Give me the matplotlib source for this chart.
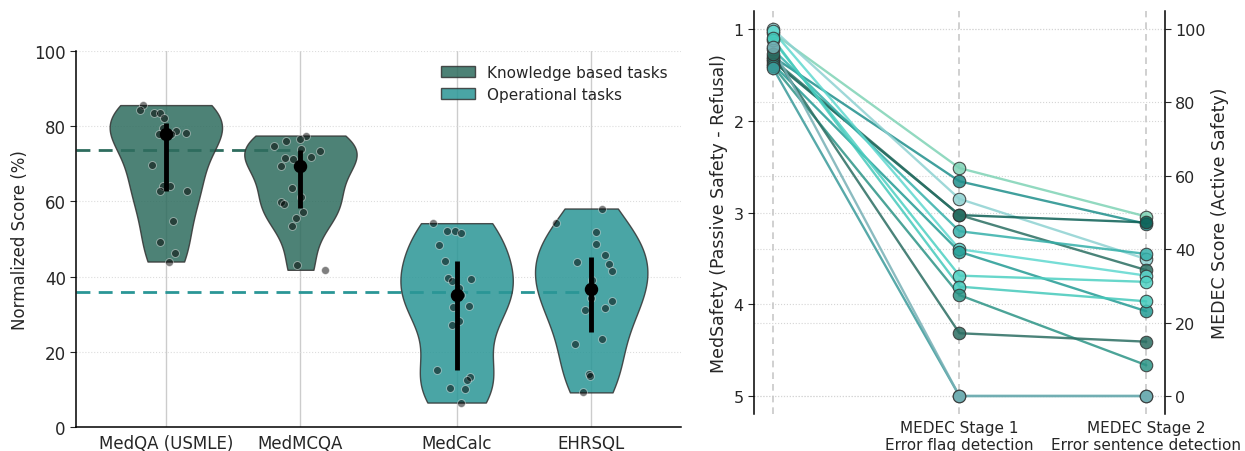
import numpy as np
import matplotlib
matplotlib.use("Agg")
import matplotlib.pyplot as plt
from matplotlib.patches import Patch

# ---------------- data: left panel ----------------
tasks = ["MedQA (USMLE)", "MedMCQA", "MedCalc", "EHRSQL"]
task_group = ["knowledge", "knowledge", "operational", "operational"]

medqa = [85.6, 84.3, 83.5, 83.5, 82.1, 79.4, 78.6, 78.1, 77.8, 77.8,
         69.8, 64.2, 64.2, 62.7, 62.7, 54.9, 49.1, 46.4, 44.0]
medmcqa = [77.5, 76.6, 76.1, 74.6, 73.9, 73.5, 71.6, 71.3, 71.8, 69.5,
           63.5, 61.2, 59.9, 59.4, 57.3, 55.6, 53.5, 43.2, 41.8]
medcalc = [54.2, 52.0, 52.2, 51.7, 48.5, 44.2, 39.7, 38.9, 39.3, 37.0,
           35.0, 31.9, 32.3, 28.2, 27.2, 15.1, 13.3, 12.4, 10.5, 10.1, 6.5]
ehrsql = [58.1, 54.2, 51.9, 48.6, 45.8, 43.9, 43.4, 41.5, 39.1, 34.2,
          33.6, 31.7, 31.0, 23.3, 22.0, 14.2, 13.5, 9.2]

# horizontal jitter of the strip points
jit_medqa = [-0.17, -0.19, -0.09, -0.044, -0.015, -0.022, 0.074, 0.153, -0.054, 0.042,
             -0.10, -0.022, 0.032, -0.047, 0.158, 0.054, -0.044, 0.067, 0.025]
jit_medmcqa = [0.04, 0.0, -0.109, -0.198, 0.005, 0.143, -0.116, -0.057, 0.079, -0.141,
               -0.062, 0.007, -0.143, -0.123, 0.017, -0.032, -0.062, -0.025, 0.18]
jit_medcalc = [-0.175, -0.072, -0.012, 0.032, -0.131, -0.084, -0.067, -0.037, 0.106, 0.017,
               0.030, -0.030, 0.091, 0.020, -0.032, -0.146, 0.101, 0.074, -0.047, 0.062, 0.035]
jit_ehrsql = [0.081, -0.259, 0.037, 0.037, 0.099, -0.109, 0.133, 0.156, 0.007, 0.0,
              0.156, 0.101, -0.047, 0.081, -0.119, -0.02, -0.007, -0.064]

# ---------------- data: right panel ----------------
medsafety = [1.04, 1.30, 1.00, 1.35, 1.33, 1.22, 1.02, 1.38, 1.12, 1.10, 1.40, 1.27, 1.42, 1.20]
medec_stage1 = [62.1, 58.5, 53.7, 49.3, 49.3, 44.9, 40.0, 39.3, 32.8, 29.8, 27.5, 17.1, 0.0, 0.0]
medec_stage2 = [48.9, 46.9, 37.3, 47.3, 34.3, 38.7, 32.8, 23.1, 31.1, 25.8, 8.4, 14.8, 0.0, 0.0]
model_colors = ["#7fd3b5", "#1f8f8c", "#8ed2d2", "#0c5f55", "#2a6e62", "#35b0aa", "#5fd8cf",
                "#239b94", "#4dd0c2", "#45c9bb", "#2c9486", "#2b6d62", "#3a9a9a", "#77b0b5"]
stage_labels = ["", "MEDEC Stage 1\nError flag detection", "MEDEC Stage 2\nError sentence detection"]

# ---------------- style ----------------
plt.rcParams["font.family"] = ["DejaVu Sans"]
plt.rcParams["text.color"] = "#262626"
plt.rcParams["axes.labelcolor"] = "#262626"
plt.rcParams["xtick.color"] = "#262626"
plt.rcParams["ytick.color"] = "#262626"

K_COLOR = "#2e6c5e"
O_COLOR = "#2a9696"
group_color = {"knowledge": K_COLOR, "operational": O_COLOR}

fig = plt.figure(figsize=(12.45, 4.52), dpi=100)
ax1 = fig.add_axes([0.0612, 0.0531, 0.486, 0.832])
ax2 = fig.add_axes([0.6056, 0.0819, 0.3301, 0.8915])

# ---------------- left panel ----------------
data = [medqa, medmcqa, medcalc, ehrsql]
jits = [jit_medqa, jit_medmcqa, jit_medcalc, jit_ehrsql]
positions = [0.0, 1.0, 2.16, 3.16]
xl = (-0.666, 3.829)
ax1.set_xlim(*xl)
ax1.set_ylim(0, 100)

ax1.set_axisbelow(True)
ax1.xaxis.grid(True, color="#cccccc", lw=1.0, zorder=0)
ax1.yaxis.grid(True, color="#dddddd", lw=0.8, ls=":", zorder=0)

# reference lines: mean of the group medians
for grp in ["knowledge", "operational"]:
    idx = [i for i, g in enumerate(task_group) if g == grp]
    ref = np.mean([np.median(data[i]) for i in idx])
    ax1.hlines(ref, xl[0], positions[idx[-1]], colors=group_color[grp],
               linestyles=(0, (5, 3)), lw=2, zorder=1)

parts = ax1.violinplot(data, positions=positions, widths=0.835,
                       showextrema=False, showmedians=False)
for body, grp in zip(parts["bodies"], task_group):
    body.set_facecolor(group_color[grp])
    body.set_edgecolor("#333333")
    body.set_linewidth(1.0)
    body.set_alpha(0.85)
    body.set_zorder(2)

for pos, vals, jit in zip(positions, data, jits):
    vals = np.asarray(vals)
    ax1.scatter(pos + np.asarray(jit), vals, s=32, c="black", alpha=0.5,
                edgecolors="white", linewidths=0.6, zorder=3)
    q1, med, q3 = np.percentile(vals, [25, 50, 75])
    ax1.vlines(pos, q1, q3, colors="black", lw=3.5, zorder=4)
    ax1.scatter([pos], [med], s=75, c="black", zorder=5)

ax1.set_xticks(positions)
ax1.set_xticklabels(tasks, fontsize=12)
ax1.set_yticks([0, 20, 40, 60, 80, 100])
ax1.tick_params(axis="y", labelsize=12, length=4, width=0.8)
ax1.tick_params(axis="x", length=0, pad=5)
ax1.set_ylabel("Normalized Score (%)", fontsize=12)
for s in ["top", "right"]:
    ax1.spines[s].set_visible(False)
for s in ["left", "bottom"]:
    ax1.spines[s].set_linewidth(1.1)
    ax1.spines[s].set_color("black")

handles = [Patch(facecolor=K_COLOR, edgecolor="#333333", alpha=0.85, label="Knowledge based tasks"),
           Patch(facecolor=O_COLOR, edgecolor="#333333", alpha=0.85, label="Operational tasks")]
ax1.legend(handles=handles, loc="upper right", frameon=False, fontsize=11,
           bbox_to_anchor=(1.0, 1.0), handlelength=2.2, labelspacing=0.45)

# ---------------- right panel ----------------
def medec_to_medsafety(v):
    # both axes share the plot area: MEDEC 100 <-> MedSafety 1, MEDEC 0 <-> MedSafety 5
    return 5.0 - np.asarray(v, dtype=float) / 25.0

ax2.set_xlim(-0.1, 2.1)
ax2.set_ylim(5.196, 0.804)
ax2r = ax2.twinx()
ax2r.set_ylim(-4.9, 104.9)

ms_ticks = [1, 2, 3, 4, 5]
medec_ticks = [0, 20, 40, 60, 80, 100]
for t in ms_ticks:
    ax2.axhline(t, color="#d5d5d5", lw=0.8, ls=":", zorder=0)
for t in medec_to_medsafety(medec_ticks):
    ax2.axhline(t, color="#d5d5d5", lw=0.8, ls=":", zorder=0)
for x in [0, 1, 2]:
    ax2.axvline(x, color="#c8c8c8", lw=1.2, ls=(0, (4, 3)), zorder=0)

xs = [0, 1, 2]
for m, s1, s2, c in zip(medsafety, medec_stage1, medec_stage2, model_colors):
    ys = [m, float(medec_to_medsafety(s1)), float(medec_to_medsafety(s2))]
    ax2.plot(xs, ys, color=c, lw=1.7, alpha=0.85, zorder=2, solid_capstyle="round")
for m, s1, s2, c in zip(medsafety, medec_stage1, medec_stage2, model_colors):
    ys = [m, float(medec_to_medsafety(s1)), float(medec_to_medsafety(s2))]
    ax2.plot(xs, ys, ls="none", marker="o", markersize=9, markerfacecolor=c,
             markeredgecolor="#333333", markeredgewidth=0.8, alpha=0.85, zorder=3)

ax2.set_xticks(xs)
ax2.set_xticklabels(stage_labels, fontsize=11)
ax2.tick_params(axis="x", length=0, pad=4)
ax2.set_yticks(ms_ticks)
ax2.tick_params(axis="y", labelsize=11.5, length=4, width=0.8)
ax2.set_ylabel("MedSafety (Passive Safety - Refusal)", fontsize=12.5)
ax2r.set_yticks(medec_ticks)
ax2r.tick_params(axis="y", labelsize=11.5, length=4, width=0.8)
ax2r.set_ylabel("MEDEC Score (Active Safety)", fontsize=12.5)

for s in ["top", "bottom", "right"]:
    ax2.spines[s].set_visible(False)
for s in ["top", "bottom", "left"]:
    ax2r.spines[s].set_visible(False)
ax2.spines["left"].set_linewidth(1.1)
ax2r.spines["right"].set_linewidth(1.1)

fig.savefig("out.png", dpi=100)
